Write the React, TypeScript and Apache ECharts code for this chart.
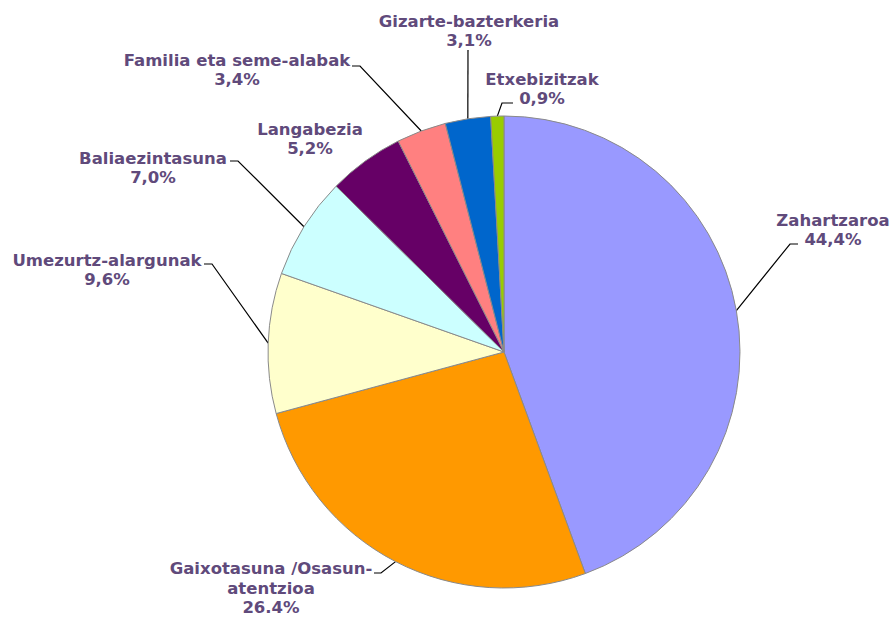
import React, { useEffect, useRef } from "react";
import * as echarts from "echarts";

const categories = [
  "Zahartzaroa",
  "Gaixotasuna /Osasun-\natentzioa",
  "Umezurtz-alargunak",
  "Baliaezintasuna",
  "Langabezia",
  "Familia eta seme-alabak",
  "Gizarte-bazterkeria",
  "Etxebizitzak",
];
const values = [44.4, 26.4, 9.6, 7.0, 5.2, 3.4, 3.1, 0.9];
const valueLabels = ["44,4%", "26.4%", "9,6%", "7,0%", "5,2%", "3,4%", "3,1%", "0,9%"];
const colors = ["#9999FF", "#FF9900", "#FFFFCC", "#CCFFFF", "#660066", "#FF8080", "#0066CC", "#99CC00"];

// label layout (styles): label block centre, and leader points after the pie-edge point
const labelPos: [number, number][] = [
  [833, 230], [271, 588], [107, 270], [153, 168], [310, 139], [237, 70], [469, 31], [542, 89],
];
const leaderPts: ([number, number][] | null)[] = [
  [[790, 244], [798, 244]],
  [[381, 573], [374, 573]],
  [[212, 264], [204, 264]],
  [[238, 161], [230, 161]],
  null,
  [[360, 66], [352, 66]],
  [[468, 50]],
  [[502, 103], [513, 103]],
];

export default function App() {
  const ref = useRef<HTMLDivElement>(null);
  useEffect(() => {
    document.body.style.margin = "0";
    const chart = echarts.init(ref.current!, null, { renderer: "svg" });
    chart.setOption({
      animation: false,
      backgroundColor: "#ffffff",
      series: [
        {
          type: "pie",
          center: [504, 352],
          radius: 236,
          startAngle: 90,
          clockwise: true,
          avoidLabelOverlap: false,
          itemStyle: { borderColor: "#8a8a8a", borderWidth: 1 },
          label: {
            show: true,
            position: "outside",
            fontFamily: "DejaVu Sans",
            fontWeight: "bold",
            fontSize: 16.5,
            lineHeight: 19.5,
            color: "#604A7B",
            align: "center",
            formatter: (p: any) => `${p.name}\n${valueLabels[p.dataIndex]}`,
          },
          labelLine: {
            show: true,
            length: 10,
            length2: 10,
            smooth: false,
            lineStyle: { color: "#000000", width: 1.2 },
          },
          labelLayout: (params: any) => {
            const i = params.dataIndex;
            const [x, y] = labelPos[i];
            const res: any = { x, y, align: "center", verticalAlign: "middle" };
            const pts = leaderPts[i];
            if (pts && params.labelLinePoints) {
              const start = params.labelLinePoints[0];
              res.labelLinePoints = [[start[0], start[1]], ...pts];
            }
            return res;
          },
          data: categories.map((name, i) => ({
            name,
            value: values[i],
            itemStyle: { color: colors[i] },
            labelLine: { show: leaderPts[i] !== null },
          })),
        },
      ],
    });
    return () => chart.dispose();
  }, []);
  return (
    <div
      ref={ref}
      style={{ position: "fixed", left: 0, top: 0, width: 892, height: 618 }}
    />
  );
}
